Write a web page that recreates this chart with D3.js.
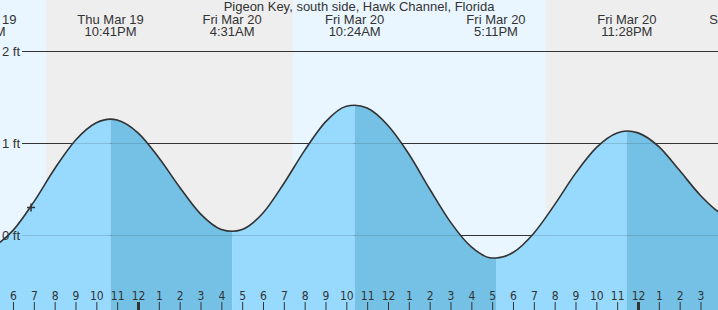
<!DOCTYPE html>
<html lang="en">
<head>
<meta charset="UTF-8">
<title>Pigeon Key tides</title>
<script src="https://cdn.jsdelivr.net/npm/d3@7"></script>
<style>
    body { margin: 0; }
    svg text { font-family: "Liberation Sans", Arial, sans-serif; fill: #333; }
    .hours text { font-family: "DejaVu Sans Condensed", "DejaVu Sans", sans-serif; font-size: 12px; fill: #333; }
    .hours line { stroke: #333; }
    .hours path { display: none; }
</style>
</head>
<body>
<svg id="img" width="718" height="310"></svg>
<script>
var stationName = "Pigeon Key, south side, Hawk Channel, Florida";

// high and low tides
var eventTimes = ["2026-03-19 16:34", "2026-03-19 22:41", "2026-03-20 04:31", "2026-03-20 10:24",
                  "2026-03-20 17:11", "2026-03-20 23:28", "2026-03-21 04:57"];
var eventHeights = [-0.16, 1.26, 0.04, 1.41, -0.25, 1.13, 0.16];

// hourly heights (ft), starting Thu 5 PM
var hourStart = "2026-03-19 17:00";
var hourHeights = [-0.13, 0.05, 0.36, 0.72, 1.03, 1.22, 1.25, 1.11, 0.84, 0.52, 0.23, 0.06,
                   0.06, 0.24, 0.56, 0.92, 1.23, 1.40, 1.38, 1.19, 0.88, 0.50, 0.14, -0.13,
                   -0.25, -0.19, 0.02, 0.33, 0.67, 0.95, 1.11, 1.11, 0.96, 0.70, 0.43, 0.23];

// daylight
var sunrises = ["2026-03-19 07:26", "2026-03-20 07:26"];
var sunsets = ["2026-03-19 19:35", "2026-03-20 19:34"];

var gridFeet = [0, 1, 2];
var nowTime = "2026-03-19 18:52", nowHeight = 0.30;

var parse = d3.timeParse("%Y-%m-%d %H:%M");
var WIDTH = 718, HEIGHT = 310;

var vis = d3.select("#img");

var x = d3.scaleTime()
    .domain([new Date(2026, 2, 19, 17, 22, 34), new Date(2026, 2, 21, 3, 50, 24)])
    .range([0, WIDTH]);
var y = d3.scaleLinear().domain([0, 2]).range([235, 51]);

var events = eventTimes.map(function (t, i) { return {t: parse(t), h: eventHeights[i]}; });
var start = parse(hourStart);
var series = hourHeights.map(function (h, i) { return {t: d3.timeHour.offset(start, i), h: h}; })
    .concat(events)
    .sort(function (a, b) { return a.t - b.t; });

// night background, then daylight bands
vis.append("rect").attr("width", WIDTH).attr("height", HEIGHT).attr("fill", "#eeeeee");
vis.append("rect").attr("x", 0).attr("width", x(parse(sunsets[0])))
    .attr("height", HEIGHT).attr("fill", "#eaf6ff");
vis.append("rect").attr("x", x(parse(sunrises[1])))
    .attr("width", x(parse(sunsets[1])) - x(parse(sunrises[1])))
    .attr("height", HEIGHT).attr("fill", "#eaf6ff");

// grid lines
function drawGrid(g) {
    g.selectAll("line").data(gridFeet).enter().append("line")
        .attr("x1", 22).attr("x2", WIDTH)
        .attr("y1", function (d) { return y(d) + 0.5; })
        .attr("y2", function (d) { return y(d) + 0.5; });
}
vis.append("g").attr("stroke", "#333").call(drawGrid);

var area = d3.area()
    .x(function (d) { return x(d.t); })
    .y0(HEIGHT)
    .y1(function (d) { return y(d.h); })
    .curve(d3.curveMonotoneX);
var line = d3.line()
    .x(function (d) { return x(d.t); })
    .y(function (d) { return y(d.h); })
    .curve(d3.curveMonotoneX);

vis.append("clipPath").attr("id", "water")
    .append("path").attr("d", area(series));

var water = vis.append("g").attr("clip-path", "url(#water)");
water.selectAll("rect").data(events.slice(0, -1)).enter().append("rect")
    .attr("x", function (d) { return x(d.t); })
    .attr("width", function (d, i) { return x(events[i + 1].t) - x(d.t); })
    .attr("y", 0).attr("height", HEIGHT)
    .attr("fill", function (d, i) { return events[i + 1].h > d.h ? "#97dafe" : "#74c1e5"; });
water.append("g").attr("stroke", "#000").attr("stroke-opacity", 0.13).call(drawGrid);

vis.append("path")
    .attr("d", line(series))
    .attr("fill", "none")
    .attr("stroke", "#333")
    .attr("stroke-width", 1.6);

// y labels
vis.selectAll(".ylab").data(gridFeet).enter().append("text")
    .attr("class", "ylab")
    .attr("x", 20).attr("y", function (d) { return y(d) + 5; })
    .attr("text-anchor", "end").attr("font-size", 13)
    .text(function (d) { return d + " ft"; });

// hour axis along the bottom
var hourAxis = d3.axisTop(x)
    .ticks(d3.timeHour.every(1))
    .tickSize(8)
    .tickPadding(2)
    .tickFormat(d3.timeFormat("%-I"));
var ax = vis.append("g").attr("class", "hours")
    .attr("transform", "translate(0," + HEIGHT + ")")
    .call(hourAxis);
ax.selectAll(".tick line")
    .attr("stroke-width", function (d) { return d.getHours() === 0 ? 3 : 1; });

// title and tide event labels
vis.append("text").attr("x", WIDTH / 2).attr("y", 11)
    .attr("text-anchor", "middle").attr("font-size", 13)
    .text(stationName);

var lab = vis.selectAll(".ev").data(events).enter().append("text")
    .attr("class", "ev").attr("text-anchor", "middle").attr("font-size", 13);
lab.append("tspan").attr("x", function (d) { return x(d.t); }).attr("y", 24)
    .text(function (d) { return d3.timeFormat("%a %b %-d")(d.t); });
lab.append("tspan").attr("x", function (d) { return x(d.t); }).attr("y", 36)
    .text(function (d) { return d3.timeFormat("%-I:%M%p")(d.t); });

// current time marker
var nx = x(parse(nowTime)), ny = y(nowHeight);
vis.append("path")
    .attr("d", "M" + (nx - 4) + "," + ny + "h8M" + nx + "," + (ny - 4) + "v8")
    .attr("stroke", "#333").attr("stroke-width", 1.5);
</script>
</body>
</html>
